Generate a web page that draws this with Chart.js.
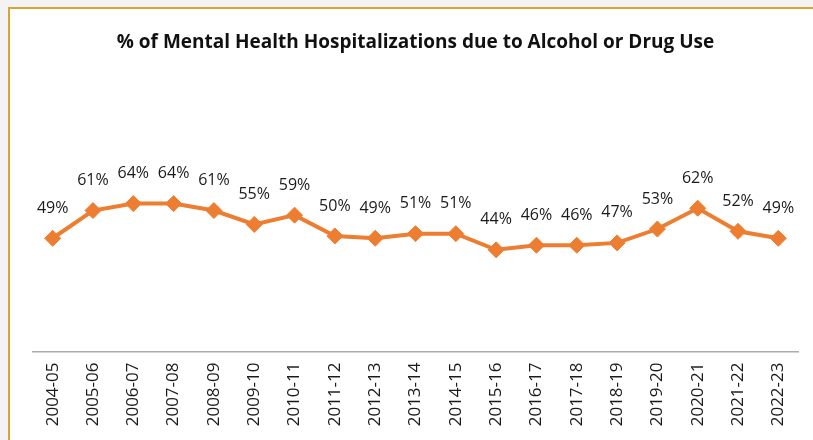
<!DOCTYPE html>
<html>
<head>
<meta charset="utf-8">
<script src="https://cdn.jsdelivr.net/npm/chart.js@4.4.1/dist/chart.umd.min.js"></script>
<style>
    body {
        margin: 0;
        background: #f3f3f3;
        width: 813px;
        height: 440px;
        overflow: hidden;
        position: relative;
    }
    #frame {
        position: absolute;
        left: 8px;
        top: 7px;
        width: 820px;
        height: 450px;
        background: #ffffff;
        border-top: 2px solid #d9a336;
        border-left: 2px solid #d9a336;
    }
    #hospChart {
        position: absolute;
        left: 0;
        top: 0;
    }
</style>
</head>
<body>
<div id="frame"></div>
<canvas id="hospChart" width="813" height="440"></canvas>

<script>

const years = [
    "2004-05", "2005-06", "2006-07", "2007-08", "2008-09", "2009-10", "2010-11",
    "2011-12", "2012-13", "2013-14", "2014-15", "2015-16", "2016-17", "2017-18",
    "2018-19", "2019-20", "2020-21", "2021-22", "2022-23"
];

const pctAlcoholDrug = [49, 61, 64, 64, 61, 55, 59, 50, 49, 51, 51, 44, 46, 46, 47, 53, 62, 52, 49];

const chartTitle = "% of Mental Health Hospitalizations due to Alcohol or Drug Use";

const orange = "#ed7d31";
const fontFamily = "'Open Sans', sans-serif";

// value labels sitting above each diamond
const pointLabels = {
    id: "pointLabels",
    afterDatasetsDraw(chart) {
        const ctx = chart.ctx;
        const meta = chart.getDatasetMeta(0);
        ctx.save();
        ctx.font = "16px " + fontFamily;
        ctx.fillStyle = "#1a1a1a";
        ctx.textAlign = "center";
        ctx.textBaseline = "middle";
        meta.data.forEach((pt, i) => {
            ctx.fillText(pctAlcoholDrug[i] + "%", pt.x, pt.y - 30);
        });
        ctx.restore();
    }
};

const ctx = document.getElementById("hospChart");

new Chart(ctx, {
    type: "line",
    data: {
        labels: years,
        datasets: [{
            label: "% due to alcohol or drug use",
            data: pctAlcoholDrug,
            borderColor: orange,
            backgroundColor: orange,
            borderWidth: 4,
            pointStyle: "rectRot",
            pointRadius: 8,
            pointBorderWidth: 1,
            pointBackgroundColor: orange,
            pointBorderColor: orange,
            tension: 0
        }]
    },
    options: {
        responsive: false,
        animation: false,
        layout: {
            padding: { top: 10, left: 32.5, right: 14.5, bottom: 0 }
        },
        plugins: {
            legend: { display: false },
            tooltip: { enabled: false },
            title: {
                display: true,
                text: chartTitle,
                color: "#111111",
                font: { family: fontFamily, size: 19, weight: "bold" },
                padding: { top: 21, bottom: 62 }
            }
        },
        scales: {
            x: {
                offset: true,
                grid: { display: false, drawTicks: false },
                border: { display: true, color: "#ababab", width: 1.5 },
                ticks: {
                    color: "#1a1a1a",
                    font: { family: fontFamily, size: 17 },
                    minRotation: 90,
                    maxRotation: 90,
                    padding: 11,
                    autoSkip: false
                },
                afterFit(scale) {
                    scale.height = 88.5;
                }
            },
            y: {
                display: false,
                min: 0,
                max: 102
            }
        }
    },
    plugins: [pointLabels]
});

</script>
</body>
</html>
